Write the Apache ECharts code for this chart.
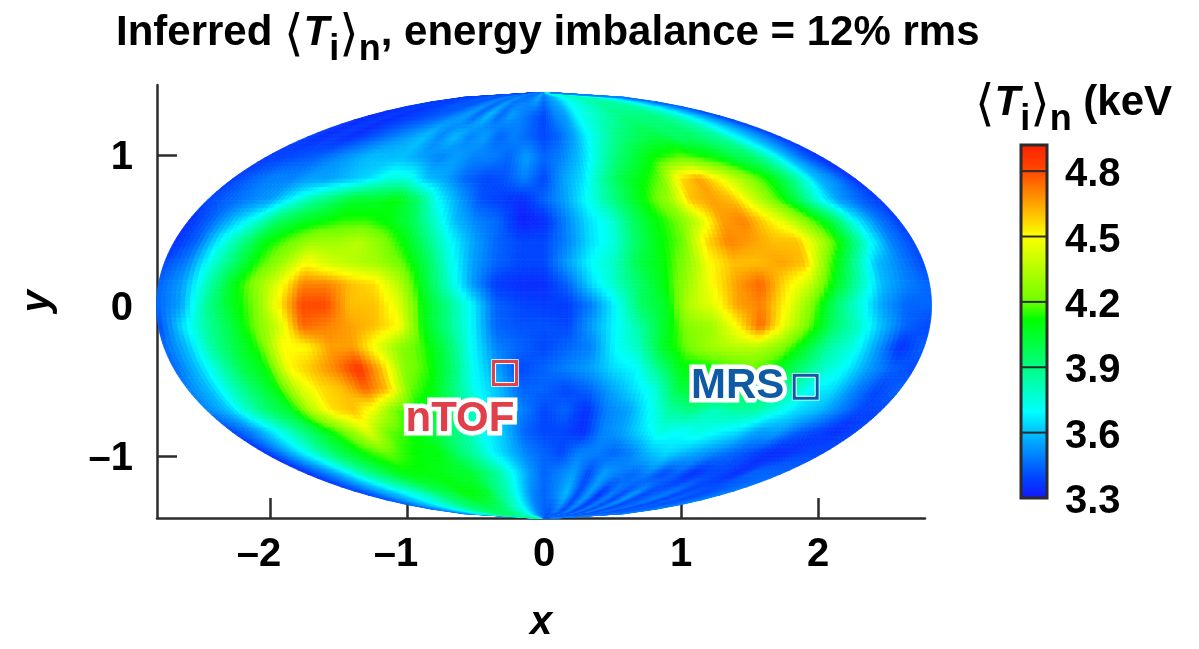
<!DOCTYPE html>
<html><head><meta charset="utf-8">
<style>html,body{margin:0;padding:0;background:#fff}#c{width:1199px;height:649px}</style>
<script src="https://cdn.jsdelivr.net/npm/echarts@6/dist/echarts.min.js"></script>
</head><body><div id="c"></div>
<script>
// Inferred temperature (keV), one row per y level from top pole to bottom pole,
// one column per fraction of the ellipse half-width from left edge to right edge.
const yLevels = [1.414,1.26,1.12,0.98,0.84,0.70,0.56,0.42,0.28,0.14,0,-0.14,-0.28,-0.42,-0.56,-0.70,-0.84,-0.98,-1.12,-1.26,-1.414];
const tempRows = [
[3.4,3.4,3.4,3.42,3.42,3.45,3.45,3.4,3.45,3.5,3.45,3.5,3.5,3.45,3.5,3.6,3.5,3.55,3.6,3.65,3.7,3.75,3.75,3.8,3.8,3.8,3.8,3.75,3.7,3.65,3.6,3.55,3.5],
[3.35,3.35,3.38,3.35,3.38,3.4,3.42,3.45,3.5,3.55,3.45,3.6,3.45,3.55,3.5,3.45,3.4,3.5,3.55,3.7,3.75,3.8,3.85,3.9,3.9,3.9,3.9,3.85,3.8,3.7,3.6,3.5,3.4],
[3.4,3.35,3.38,3.35,3.4,3.45,3.5,3.55,3.6,3.5,3.6,3.5,3.55,3.45,3.5,3.45,3.4,3.45,3.55,3.7,3.8,3.9,3.95,4.0,4.0,3.95,3.95,3.9,3.85,3.7,3.6,3.5,3.38],
[3.38,3.4,3.42,3.45,3.5,3.55,3.6,3.6,3.6,3.55,3.5,3.55,3.5,3.5,3.45,3.55,3.45,3.5,3.6,3.75,3.9,4.0,4.1,4.15,4.2,4.15,4.1,4.0,3.95,3.8,3.6,3.45,3.35],
[3.38,3.45,3.5,3.5,3.55,3.55,3.6,3.65,3.75,3.75,3.6,3.55,3.45,3.4,3.42,3.5,3.4,3.55,3.65,3.85,4.0,4.1,4.2,4.55,4.65,4.5,4.35,4.2,4.05,3.85,3.6,3.5,3.35],
[3.4,3.45,3.5,3.55,3.7,3.85,3.95,4.05,4.05,4.1,3.95,3.7,3.55,3.42,3.38,3.35,3.45,3.55,3.7,3.85,4.0,4.15,4.3,4.6,4.65,4.6,4.4,4.2,4.0,3.75,3.55,3.45,3.38],
[3.35,3.45,3.6,3.75,3.95,4.05,4.1,4.15,4.15,4.1,4.0,3.8,3.6,3.5,3.45,3.32,3.35,3.5,3.65,3.75,3.95,4.1,4.2,4.4,4.65,4.7,4.55,4.4,4.2,4.0,3.7,3.5,3.38],
[3.35,3.45,3.7,3.9,4.1,4.2,4.3,4.3,4.35,4.25,4.1,3.9,3.7,3.55,3.45,3.4,3.4,3.5,3.65,3.75,3.95,4.1,4.2,4.55,4.7,4.65,4.6,4.6,4.35,4.05,3.75,3.5,3.4],
[3.4,3.5,3.75,3.95,4.15,4.3,4.5,4.4,4.35,4.3,4.2,4.0,3.75,3.55,3.45,3.4,3.4,3.55,3.7,3.8,4.0,4.1,4.25,4.5,4.6,4.6,4.65,4.6,4.2,3.9,3.6,3.5,3.4],
[3.45,3.55,3.8,4.05,4.25,4.45,4.7,4.7,4.6,4.55,4.35,4.05,3.8,3.55,3.38,3.35,3.35,3.45,3.65,3.8,3.95,4.1,4.3,4.5,4.65,4.75,4.55,4.4,4.1,3.85,3.6,3.5,3.45],
[3.45,3.55,3.85,4.05,4.2,4.5,4.8,4.8,4.6,4.6,4.45,4.1,3.9,3.7,3.45,3.4,3.38,3.38,3.5,3.7,3.95,4.05,4.35,4.45,4.65,4.7,4.5,4.25,3.95,3.75,3.55,3.45,3.45],
[3.4,3.65,3.85,4.0,4.2,4.4,4.75,4.7,4.65,4.6,4.5,4.1,3.9,3.7,3.45,3.42,3.42,3.4,3.55,3.7,3.85,4.05,4.25,4.3,4.5,4.75,4.45,4.2,3.95,3.8,3.6,3.45,3.4],
[3.45,3.6,3.85,4.0,4.15,4.5,4.5,4.65,4.65,4.45,4.25,4.15,3.95,3.7,3.5,3.45,3.4,3.45,3.5,3.7,3.8,4.05,4.2,4.3,4.35,4.35,4.25,4.05,3.85,3.75,3.55,3.35,3.45],
[3.45,3.6,3.8,4.0,4.1,4.5,4.6,4.7,4.85,4.6,4.25,4.15,3.95,3.7,3.55,3.4,3.45,3.5,3.55,3.65,3.7,3.9,4.1,4.1,4.15,4.2,4.1,3.95,3.8,3.7,3.55,3.45,3.4],
[3.5,3.6,3.8,3.95,4.1,4.4,4.55,4.6,4.75,4.6,4.2,4.1,3.9,3.7,3.6,3.45,3.45,3.4,3.45,3.55,3.65,3.75,4.0,4.05,4.05,4.0,3.9,3.85,3.7,3.65,3.5,3.4,3.45],
[3.5,3.6,3.8,3.95,4.05,4.35,4.55,4.6,4.45,4.2,4.1,4.05,3.9,3.75,3.6,3.5,3.4,3.45,3.35,3.5,3.55,3.7,3.85,3.9,3.8,3.85,3.85,3.75,3.65,3.6,3.5,3.4,3.4],
[3.4,3.5,3.65,3.8,3.95,4.1,4.25,4.45,4.2,4.15,4.05,3.95,3.85,3.7,3.6,3.45,3.4,3.4,3.35,3.5,3.55,3.65,3.75,3.7,3.75,3.7,3.65,3.55,3.55,3.45,3.4,3.35,3.4],
[3.35,3.5,3.65,3.8,3.95,4.05,4.15,4.2,4.15,4.1,4.1,3.95,3.85,3.7,3.6,3.5,3.45,3.4,3.5,3.5,3.45,3.5,3.6,3.65,3.6,3.55,3.5,3.45,3.4,3.35,3.35,3.4,3.4],
[3.35,3.45,3.55,3.7,3.85,3.95,4.05,4.1,4.1,4.1,4.05,4.05,3.95,3.85,3.7,3.55,3.45,3.5,3.55,3.4,3.55,3.5,3.45,3.5,3.4,3.45,3.35,3.4,3.4,3.35,3.45,3.45,3.45],
[3.4,3.45,3.55,3.6,3.7,3.75,3.85,3.95,4.0,4.1,4.1,4.05,3.9,3.8,3.65,3.5,3.45,3.5,3.6,3.4,3.55,3.35,3.5,3.4,3.55,3.4,3.45,3.5,3.4,3.45,3.4,3.45,3.5],
[3.5,3.55,3.6,3.7,3.8,3.85,3.9,3.95,3.9,3.9,3.85,3.8,3.75,3.7,3.6,3.5,3.45,3.4,3.45,3.4,3.5,3.4,3.5,3.4,3.5,3.4,3.45,3.45,3.4,3.45,3.45,3.45,3.5]
];
const xTicks = [-2,-1,0,1,2];
const yTicks = [-1,0,1];
const barTicks = [3.3,3.6,3.9,4.2,4.5,4.8];
const colorLevels = [3.3,3.4,3.6,3.7,3.9,4.12,4.2,4.5,4.65,4.8,4.92];
const colorValues = ['#1414ff','#0046ff','#00beff','#00ffff','#00ff82','#00ff00','#6eff00','#ffff00','#ffa000','#ff4600','#ff1e00'];
const detectors = [{name:'nTOF',x:-0.285,y:-0.449},{name:'MRS',x:1.91,y:-0.54}];

const HALF_X = Math.SQRT2*2, HALF_Y = Math.SQRT2;
const FONT = '"Liberation Sans",Arial,sans-serif';
const INK = '#2b2b2b';
const RED = '#e0404a', BLUE = '#0f5aa5';

function rgb(hex){return [1,3,5].map(function(i){return parseInt(hex.substr(i,2),16);});}
const colorRGB = colorValues.map(rgb);
function colorFor(v){
  if(v<=colorLevels[0]) return 'rgb('+colorRGB[0].join(',')+')';
  for(let i=1;i<colorLevels.length;i++){
    if(v<=colorLevels[i]){
      const t=(v-colorLevels[i-1])/(colorLevels[i]-colorLevels[i-1]);
      const a=colorRGB[i-1],b=colorRGB[i];
      return 'rgb('+Math.round(a[0]+(b[0]-a[0])*t)+','+Math.round(a[1]+(b[1]-a[1])*t)+','+Math.round(a[2]+(b[2]-a[2])*t)+')';
    }
  }
  return 'rgb('+colorRGB[colorRGB.length-1].join(',')+')';
}
const nCols = tempRows[0].length;
function toXY(u,y){ const s=Math.max(0,1-(y*y)/(HALF_Y*HALF_Y)); return [u*HALF_X*Math.sqrt(s),y]; }
const cells=[];
for(let r=0;r<tempRows.length-1;r++) for(let c=0;c<nCols-1;c++){
  const uc=-1+2*(c+0.5)/(nCols-1), yc=(yLevels[r]+yLevels[r+1])/2, p=toXY(uc,yc);
  cells.push([p[0],p[1],r,c]);
}
const SUB=5;
function renderCell(params,api){
  const r=api.value(2),c=api.value(3);
  const v00=tempRows[r][c],v01=tempRows[r][c+1],v10=tempRows[r+1][c],v11=tempRows[r+1][c+1];
  const y0=yLevels[r],y1=yLevels[r+1],u0=-1+2*c/(nCols-1),u1=-1+2*(c+1)/(nCols-1);
  const children=[];
  for(let a=0;a<SUB;a++) for(let b=0;b<SUB;b++){
    const ta=a/SUB,tb=b/SUB,ta2=(a+1)/SUB,tb2=(b+1)/SUB;
    const Y0=y0+(y1-y0)*ta,Y1=y0+(y1-y0)*ta2,U0=u0+(u1-u0)*tb,U1=u0+(u1-u0)*tb2;
    const tm=(a+.5)/SUB,sm=(b+.5)/SUB;
    const v=(v00*(1-sm)+v01*sm)*(1-tm)+(v10*(1-sm)+v11*sm)*tm;
    const col=colorFor(v);
    const pts=[toXY(U0,Y0),toXY(U1,Y0),toXY(U1,Y1),toXY(U0,Y1)].map(function(p){return api.coord(p);});
    children.push({type:'polygon',shape:{points:pts},style:{fill:col,stroke:col,lineWidth:0.8},silent:true});
  }
  return {type:'group',children:children};
}
function renderBar(params,api){
  const min=api.value(1),max=api.value(2);
  const lo=api.coord([0,min]),hi=api.coord([1,max]);
  const stops=colorLevels.map(function(l,i){return {offset:(max-l)/(max-min),color:colorValues[i]};}).reverse();
  const kids=[{type:'rect',shape:{x:lo[0],y:hi[1],width:hi[0]-lo[0],height:lo[1]-hi[1]},
    style:{fill:new echarts.graphic.LinearGradient(0,0,0,1,stops),stroke:INK,lineWidth:3},silent:true}];
  barTicks.forEach(function(t){
    const a=api.coord([0,t]),b=api.coord([1,t]);
    kids.push({type:'line',shape:{x1:a[0],y1:a[1],x2:b[0],y2:b[1]},style:{stroke:INK,lineWidth:2},silent:true});
  });
  return {type:'group',children:kids};
}
function renderDetector(params,api){
  const d=detectors[params.dataIndex],p=api.coord([api.value(0),api.value(1)]);
  const isN=d.name==='nTOF',col=isN?RED:BLUE;
  const off=isN?[-45,46]:[-68,0];
  function sq(s,st,w){return {type:'rect',shape:{x:p[0]-s/2,y:p[1]-s/2,width:s,height:s},style:{fill:null,stroke:st,lineWidth:w},silent:true};}
  return {type:'group',children:[
    sq(26,'#ffffff',1.5),sq(22.5,col,3.5),sq(19,'#ffffff',1),
    {type:'text',x:p[0]+off[0],y:p[1]+off[1],silent:true,style:{text:d.name,align:'center',verticalAlign:'middle',
      font:'bold 42px '+FONT,fill:col,stroke:'#ffffff',lineWidth:9,lineJoin:'round'}}
  ]};
}
const labelStyle={fontFamily:FONT,fontWeight:'bold',fontSize:40,color:'#000'};
function dashFmt(v){return v<0?'\u2013'+Math.abs(v):String(v);}
function dashFmtX(v){return v<0?'\u2013'+Math.abs(v)+'\u00A0\u00A0':String(v);}
const axisBase={axisLine:{onZero:false,lineStyle:{color:INK,width:2.5}},axisTick:{inside:true,length:20,lineStyle:{color:INK,width:2.5}},splitLine:{show:false}};
function mathRich(size,sub,lift,big){return {
  a:{fontFamily:FONT,fontWeight:'bold',fontSize:size,color:'#000',verticalAlign:'top',padding:[0,0,lift,0]},
  b:{fontFamily:'"DejaVu Sans"',fontWeight:'normal',fontSize:big,color:'#000',verticalAlign:'top',padding:[0,0,0,0]},
  t:{fontFamily:FONT,fontWeight:'bold',fontStyle:'italic',fontSize:size,color:'#000',verticalAlign:'top',padding:[0,0,lift,0]},
  s:{fontFamily:FONT,fontWeight:'bold',fontSize:sub,color:'#000',verticalAlign:'bottom',padding:[lift,0,0,0]}
};}
const chart=echarts.init(document.getElementById('c'),null,{renderer:'canvas'});
chart.setOption({
  animation:false,backgroundColor:'#ffffff',
  title:{text:'{a|Inferred }{b|\u27E8}{t|T}{s|i}{b|\u27E9}{s|n}{a|, energy imbalance = 12% rms}',left:116,top:12,padding:0,
    textStyle:{rich:mathRich(42,36,14,50)}},
  graphic:[
    {type:'text',left:975,top:82,z:20,style:{text:'{b|\u27E8}{t|T}{s|i}{b|\u27E9}{s|n}{a| (keV)}',rich:mathRich(42,36,14,50)}},
    {type:'rect',left:1172,top:70,z:21,shape:{width:27,height:70},style:{fill:'#fff'}}
  ],
  grid:[
    {left:157,right:274,top:85,bottom:131},
    {left:1021,width:26,top:145,bottom:151}
  ],
  xAxis:[
    Object.assign({},axisBase,{type:'value',gridIndex:0,min:-2.825,max:2.781,
      axisTick:Object.assign({},axisBase.axisTick,{customValues:xTicks}),
      axisLabel:Object.assign({},labelStyle,{customValues:xTicks,formatter:dashFmtX,margin:17}),
      name:'x',nameLocation:'center',nameGap:85,
      nameTextStyle:{fontFamily:FONT,fontWeight:'bold',fontStyle:'italic',fontSize:40,color:'#000'}}),
    {type:'value',gridIndex:1,min:0,max:1,show:false}
  ],
  yAxis:[
    Object.assign({},axisBase,{type:'value',gridIndex:0,min:-1.412,max:1.465,
      axisTick:Object.assign({},axisBase.axisTick,{customValues:yTicks}),
      axisLabel:Object.assign({},labelStyle,{customValues:yTicks,formatter:dashFmt,margin:24,verticalAlign:'top',lineHeight:6}),
      name:'y',nameLocation:'center',nameGap:99,nameRotate:90,
      nameTextStyle:{fontFamily:FONT,fontWeight:'bold',fontStyle:'italic',fontSize:40,color:'#000'}}),
    {type:'value',gridIndex:1,min:3.3,max:4.92,position:'right',
      axisLine:{show:false},splitLine:{show:false},axisTick:{show:false},
      axisLabel:Object.assign({},labelStyle,{customValues:barTicks,formatter:function(v){return v.toFixed(1);},margin:18,verticalAlign:'top',lineHeight:8})}
  ],
  series:[
    {type:'custom',xAxisIndex:0,yAxisIndex:0,data:cells,encode:{x:0,y:1},renderItem:renderCell,clip:false,silent:true,progressive:0,z:2},
    {type:'custom',xAxisIndex:0,yAxisIndex:0,data:detectors.map(function(d){return [d.x,d.y];}),encode:{x:0,y:1},renderItem:renderDetector,clip:false,silent:true,z:5},
    {type:'custom',xAxisIndex:1,yAxisIndex:1,data:[[0,3.3,4.92]],encode:{x:0,y:[1,2]},renderItem:renderBar,clip:false,silent:true,z:2}
  ]
});
</script></body></html>
